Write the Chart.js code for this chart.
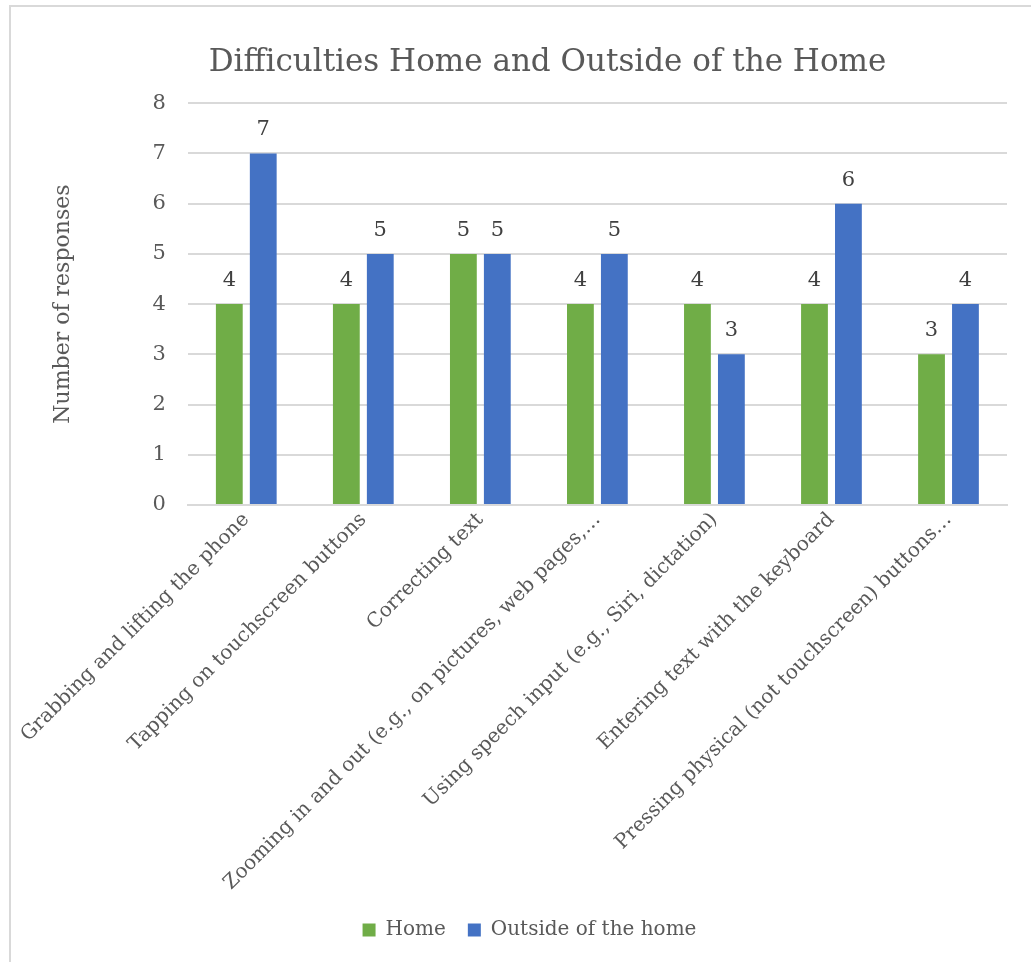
<!DOCTYPE html>
<html>
<head>
<meta charset="utf-8">
<script src="https://cdn.jsdelivr.net/npm/chart.js@4"></script>
<style>
  html, body { margin: 0; padding: 0; background: #fff; overflow: hidden; }
  #frame { position: absolute; left: 9px; top: 5px; width: 1100px; height: 1000px;
           border-top: 2px solid #d9d9d9; border-left: 2px solid #d9d9d9; pointer-events: none; }
  canvas { position: absolute; left: 0; top: 0; }
</style>
</head>
<body>
<canvas id="myChart" width="1031" height="962"></canvas>
<div id="frame"></div>
<script>
// Chart data
const categories = [
    "Grabbing and lifting the phone",
    "Tapping on touchscreen buttons",
    "Correcting text",
    "Zooming in and out (e.g., on pictures, web pages,…",
    "Using speech input (e.g., Siri, dictation)",
    "Entering text with the keyboard",
    "Pressing physical (not touchscreen) buttons…"
];
const homeValues = [4, 4, 5, 4, 4, 4, 3];
const outsideValues = [7, 5, 5, 5, 3, 6, 4];
const yTicks = [0, 1, 2, 3, 4, 5, 6, 7, 8];

const fontFamily = "'DejaVu Serif', serif";
const textColor = "#595959";

// draw the value above each bar
const valueLabels = {
    id: "valueLabels",
    afterDatasetsDraw(chart) {
        const ctx = chart.ctx;
        ctx.save();
        ctx.font = "21px " + fontFamily;
        ctx.fillStyle = "#404040";
        ctx.textAlign = "center";
        ctx.textBaseline = "bottom";
        chart.data.datasets.forEach(function (ds, i) {
            chart.getDatasetMeta(i).data.forEach(function (bar, j) {
                ctx.fillText(ds.data[j], bar.x, bar.y - 13);
            });
        });
        ctx.restore();
    }
};

// nudge title and legend to where the original has them
const shiftBoxes = {
    id: "shiftBoxes",
    afterLayout(chart) {
        if (chart.titleBlock) chart.titleBlock.left += 38;
        if (chart.legend) chart.legend.left += 2;
    }
};

const ctx = document.getElementById("myChart").getContext("2d");
const myChart = new Chart(ctx, {
    type: "bar",
    data: {
        labels: categories,
        datasets: [{
            label: "Home",
            data: homeValues,
            backgroundColor: "#70AD47",
            categoryPercentage: 0.58,
            barPercentage: 0.79
        }, {
            label: "Outside of the home",
            data: outsideValues,
            backgroundColor: "#4472C4",
            categoryPercentage: 0.58,
            barPercentage: 0.79
        }]
    },
    options: {
        responsive: false,
        animation: false,
        layout: { padding: { left: 50, right: 24, top: 20, bottom: 12 } },
        plugins: {
            title: {
                display: true,
                text: "Difficulties Home and Outside of the Home",
                color: textColor,
                font: { family: fontFamily, size: 31, weight: "normal" },
                padding: { top: 24, bottom: 22 }
            },
            legend: {
                position: "bottom",
                labels: {
                    color: textColor,
                    font: { family: fontFamily, size: 20 },
                    boxWidth: 13,
                    boxHeight: 13,
                    padding: 22
                }
            },
            tooltip: { enabled: false }
        },
        scales: {
            x: {
                grid: { display: false, drawTicks: false },
                border: { color: "#d9d9d9", width: 2 },
                ticks: {
                    color: textColor,
                    font: { family: fontFamily, size: 20 },
                    maxRotation: 45,
                    minRotation: 45,
                    autoSkip: false,
                    padding: 3
                }
            },
            y: {
                min: 0,
                max: 8,
                afterBuildTicks(axis) {
                    axis.ticks = yTicks.map(function (v) { return { value: v }; });
                },
                grid: { color: "#d9d9d9", lineWidth: 2, drawTicks: false },
                border: { display: false },
                ticks: {
                    color: textColor,
                    font: { family: fontFamily, size: 21 },
                    padding: 22
                },
                title: {
                    display: true,
                    text: "Number of responses",
                    color: textColor,
                    font: { family: fontFamily, size: 22 },
                    padding: { top: 0, bottom: 54 }
                }
            }
        }
    },
    plugins: [valueLabels, shiftBoxes]
});
</script>
</body>
</html>
